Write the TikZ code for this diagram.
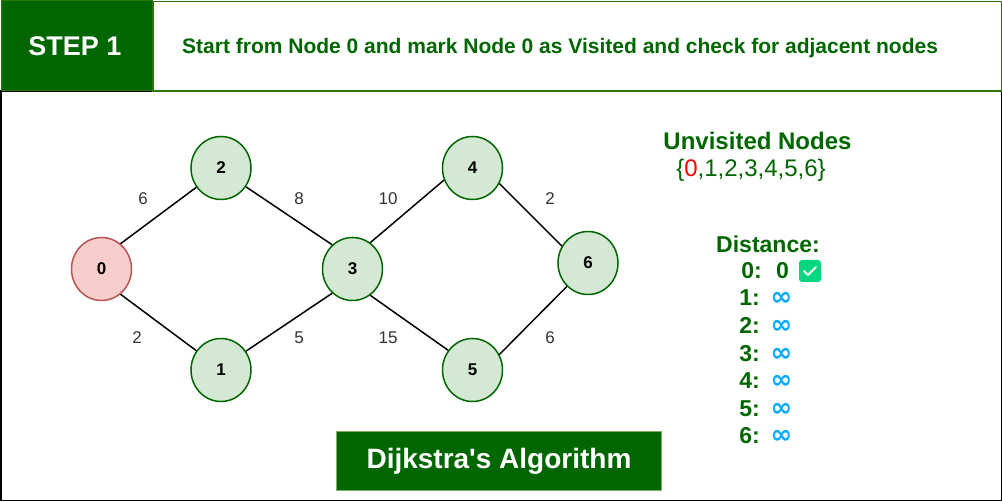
\documentclass[tikz,border=0pt]{standalone}
\usepackage{fontspec}
\setmainfont{Liberation Sans}
\newfontfamily\infFont{DejaVu Sans}
\usetikzlibrary{positioning,shapes.geometric}
\definecolor{gfgGreen}{HTML}{006600}
\definecolor{lineGreen}{HTML}{2D7600}
\definecolor{nodeGreen}{HTML}{D5E8D4}
\definecolor{nodeRed}{HTML}{F8CECC}
\definecolor{nodeRedLine}{HTML}{B85450}
\definecolor{infBlue}{HTML}{00AAFF}
\definecolor{tickGreen}{HTML}{06D67F}
\tikzset{
    % Graph
    vertex/.style={
        ellipse,
        draw=gfgGreen,
        fill=nodeGreen,
        line width=1.5pt,
        minimum width=60pt,
        minimum height=63pt,
        inner sep=0pt,
        font=\fontsize{17}{17}\selectfont\bfseries
    },
    startVertex/.style={
        vertex,
        draw=nodeRedLine,
        fill=nodeRed
    },
    edge/.style={
        line width=1.5pt,
        draw=black
    },
    weight/.style={
        font=\fontsize{17}{17}\selectfont,
        text=black!80,
        inner sep=0pt
    },
    % Panel on the right
    panelText/.style={
        text=gfgGreen,
        inner sep=0pt,
        font=\fontsize{#1}{#1}\selectfont\bfseries
    },
    distLabel/.style={
        panelText=23,
        anchor=base east
    },
    infMark/.style={
        text=infBlue,
        inner sep=0pt,
        anchor=center,
        font=\fontsize{26}{18}\selectfont\infFont\bfseries
    }
}

\begin{document}
\begin{tikzpicture}[x=1pt,y=-1pt]

    \useasboundingbox (0,0) rectangle (1002,502);
    \draw[black,line width=1.5pt] (0.75,91) rectangle (1001.25,500.5);

    % Header
    \node[draw=lineGreen,line width=1.5pt,fill=white,minimum width=849pt,minimum height=89.5pt,inner sep=0pt,anchor=north west] (headerBox) at (152,1) {};
    \node[draw=lineGreen,line width=1pt,fill=gfgGreen,minimum width=151pt,minimum height=90pt,inner sep=0pt,anchor=north west] (stepBox) at (0.5,0.5) {};
    \node[text=white,inner sep=0pt,font=\fontsize{27}{27}\selectfont\bfseries] (stepText) at (75,46) {STEP 1};
    \node[panelText=21,anchor=west] (headerText) at (182,48.5) {Start from Node 0 and mark Node 0 as Visited and check for adjacent nodes};

    % Graph
    \node[startVertex] (n0) at (101.5,269) {0};
    \node[vertex] (n2) at (221,168) {2};
    \node[vertex] (n1) at (221,370) {1};
    \node[vertex] (n3) at (352.5,269) {3};
    \node[vertex] (n4) at (472.5,168) {4};
    \node[vertex] (n5) at (472.5,370) {5};
    \node[vertex] (n6) at (588,263) {6};

    \draw[edge] (n0.53) -- (n2.218);
    \draw[edge] (n0.-53) -- (n1.142);
    \draw[edge] (n2.-37) -- (n3.130);
    \draw[edge] (n1.37) -- (n3.-130);
    \draw[edge] (n3.56) -- (n4.203);
    \draw[edge] (n3.-56) -- (n5.141);
    \draw[edge] (n4.-30) -- (n6.147);
    \draw[edge] (n5.30) -- (n6.228);

    \node[weight] (w02) at (143,199) {6};
    \node[weight] (w01) at (137,338) {2};
    \node[weight] (w23) at (299,199) {8};
    \node[weight] (w13) at (299,338) {5};
    \node[weight] (w34) at (388,199) {10};
    \node[weight] (w35) at (388,338) {15};
    \node[weight] (w46) at (550,199) {2};
    \node[weight] (w56) at (550,338) {6};

    % Title
    \node[fill=gfgGreen,draw=lineGreen!60,line width=1pt,text=white,minimum width=325pt,minimum height=59pt,inner sep=0pt,font=\fontsize{28}{28}\selectfont\bfseries] (title) at (499,461.5) {Dijkstra\textquotesingle s Algorithm};

    % Unvisited nodes
    \node[panelText=24] (unvisited) at (757.5,141) {Unvisited Nodes};
    \node[text=gfgGreen,inner sep=0pt,font=\fontsize{24}{24}\selectfont] (unvisitedSet) at (751,170) {\{\textcolor{red}{0},1,2,3,4,5,6\}};

    % Distances
    \node[panelText=23] (distance) at (768,244) {Distance:};
    \node[distLabel] (d0) at (762,279) {0:};
    \node[panelText=23,anchor=base west] (d0val) at (776,279) {0};
    \node[fill=tickGreen,rounded corners=3pt,minimum size=22pt,inner sep=0pt] (tick) at (810,271) {};
    \draw[white,line width=1.8pt,line cap=round,line join=round] ([shift={(-6,0)}]tick.center) -- ([shift={(-2,4)}]tick.center) -- ([shift={(6,-4)}]tick.center);
    \foreach \i/\ypos in {1/306,2/334,3/362,4/389,5/417,6/444} {
        \node[distLabel] (d\i) at (760,\ypos) {\i:};
        \node[infMark] (inf\i) at (781.5,\ypos-7) {∞};
    }

\end{tikzpicture}
\end{document}
